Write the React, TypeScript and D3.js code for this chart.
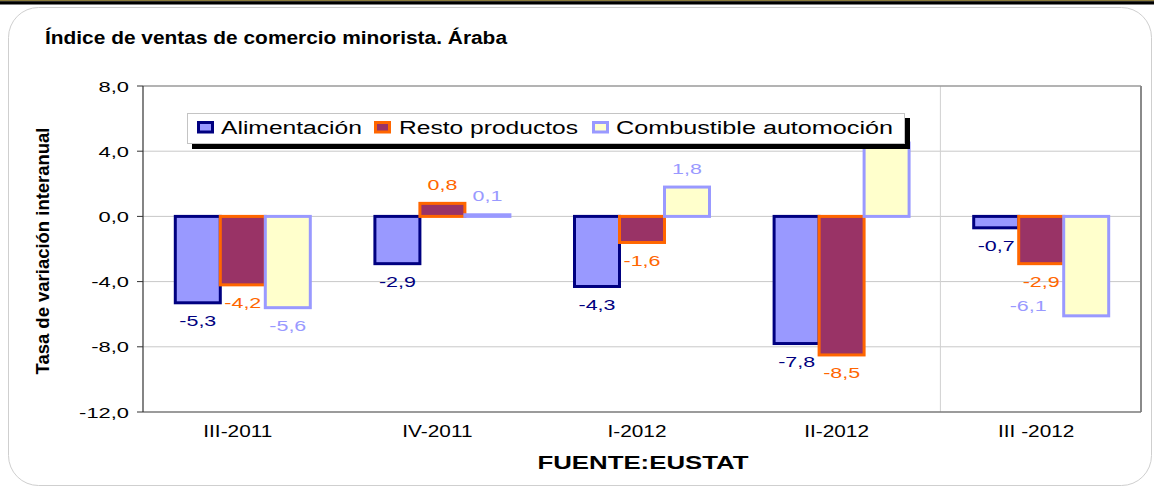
import React from "react";
import * as d3 from "d3";

const categories = ["III-2011", "IV-2011", "I-2012", "II-2012", "III -2012"];
const alimentacion = [-5.3, -2.9, -4.3, -7.8, -0.7];
const restoProductos = [-4.2, 0.8, -1.6, -8.5, -2.9];
const combustible = [-5.6, 0.1, 1.8, 4.5, -6.1];
const yTicks = [8, 4, 0, -4, -8, -12];
const seriesNames = ["Alimentación", "Resto productos", "Combustible automoción"];

const W = 1154;
const H = 489;
const FONT = "'Liberation Sans', Arial, sans-serif";

const seriesStyle = [
  { fill: "#9999FF", stroke: "#000080", label: "#000080" },
  { fill: "#993366", stroke: "#FF6600", label: "#FF6600" },
  { fill: "#FFFFCC", stroke: "#9999FF", label: "#9999FF" },
];
// manual label displacements (series index, category index)
const labelShift: Record<string, [number, number]> = { "2-4": [-58, -28] };
const legendLayout = [
  { sw: 197, tx: 221, tl: 141 },
  { sw: 374, tx: 399, tl: 179 },
  { sw: 592, tx: 616, tl: 277 },
];

const fmt = (v: number) => d3.format(".1f")(v).replace(".", ",").replace("−", "-");

function SText(props: any) {
  const { x, y, sx = 1, anchor = "start", children, ...rest } = props;
  return (
    <text transform={`translate(${x},${y}) scale(${sx},1)`} textAnchor={anchor} fontFamily={FONT} {...rest}>
      {children}
    </text>
  );
}

export default function App() {
  const plot = { l: 143, r: 1141, t: 86, b: 412 };
  const x0 = d3.scaleBand<string>().domain(categories).range([plot.l, plot.r]).padding(0);
  const groupW = 135;
  const x1 = d3.scaleBand<number>().domain([0, 1, 2]).range([0, groupW]).padding(0);
  const y = d3.scaleLinear().domain([-12, 8]).range([plot.b, plot.t]);
  const series = [alimentacion, restoProductos, combustible];

  const bars: any[] = [];
  const labels: any[] = [];
  series.forEach((vals, si) => {
    vals.forEach((v, ci) => {
      const cx = (x0(categories[ci]) as number) + x0.bandwidth() / 2 - groupW / 2;
      const bx = cx + (x1(si) as number);
      const bw = x1.bandwidth();
      const yTop = y(Math.max(0, v));
      const yBot = y(Math.min(0, v));
      bars.push(
        <rect key={`b${si}-${ci}`} x={bx} y={yTop} width={bw} height={Math.max(0.5, yBot - yTop)}
          fill={seriesStyle[si].fill} stroke={seriesStyle[si].stroke} strokeWidth={3} />
      );
      const sh = labelShift[`${si}-${ci}`] || [0, 0];
      const ly = v < 0 ? yBot + 23.5 : yTop - 13.5;
      labels.push(
        <SText key={`l${si}-${ci}`} x={bx + bw / 2 + sh[0]} y={ly + sh[1]} sx={1.43} anchor="middle"
          fontSize={15} fill={seriesStyle[si].label}>{fmt(v)}</SText>
      );
    });
  });

  return (
    <svg width={W} height={H} style={{ position: "absolute", left: 0, top: 0, background: "#fff" }}>
      <rect x={0} y={0} width={W} height={1.2} fill="#8a7a3a" />
      <rect x={0} y={1.2} width={W} height={3.3} fill="#000" />
      <rect x={8.5} y={7.5} width={1143} height={478} rx={30} ry={30} fill="#fff" stroke="#cfcfcf" strokeWidth={1} />

      <text x={45} y={44} fontFamily={FONT} fontWeight="bold" fontSize={17.5} fill="#000"
        textLength={462} lengthAdjust="spacingAndGlyphs">Índice de ventas de comercio minorista. Áraba</text>

      {/* gridlines */}
      {yTicks.filter((t) => t !== 8 && t !== -12).map((t) => (
        <line key={`g${t}`} x1={plot.l} x2={plot.r} y1={y(t)} y2={y(t)} stroke="#c8c8c8" strokeWidth={1} />
      ))}
      <line x1={(x0(categories[4]) as number) - 1} x2={(x0(categories[4]) as number) - 1} y1={plot.t} y2={plot.b}
        stroke="#d0d0d0" strokeWidth={1} />
      <line x1={plot.l} x2={plot.r} y1={plot.t} y2={plot.t} stroke="#9a9a9a" strokeWidth={1.5} />
      <line x1={plot.r} x2={plot.r} y1={plot.t} y2={plot.b} stroke="#8a8a8a" strokeWidth={2} />

      {bars}

      {/* axes */}
      <line x1={plot.l} x2={plot.r} y1={plot.b} y2={plot.b} stroke="#7a7a7a" strokeWidth={1.5} />
      <line x1={plot.l} x2={plot.l} y1={plot.t} y2={plot.b} stroke="#333" strokeWidth={1.2} />
      {yTicks.map((t) => (
        <g key={`t${t}`}>
          <line x1={plot.l - 6} x2={plot.l} y1={y(t)} y2={y(t)} stroke="#333" strokeWidth={1} />
          <SText x={129} y={y(t) + 5.5} sx={1.46} anchor="end" fontSize={15} fill="#000">{fmt(t)}</SText>
        </g>
      ))}
      {categories.map((c) => (
        <SText key={c} x={(x0(c) as number) + x0.bandwidth() / 2 - 5} y={437} sx={1.3} anchor="middle"
          fontSize={16} fill="#000">{c}</SText>
      ))}

      {labels}

      <text transform="translate(49,251) rotate(-90)" textAnchor="middle" fontFamily={FONT} fontWeight="bold"
        fontSize={19} fill="#000" textLength={247} lengthAdjust="spacingAndGlyphs">Tasa de variación interanual</text>

      <text x={643} y={469} textAnchor="middle" fontFamily={FONT} fontWeight="bold" fontSize={18.5} fill="#000"
        textLength={211} lengthAdjust="spacingAndGlyphs">FUENTE:EUSTAT</text>

      {/* legend */}
      <rect x={192} y={118} width={718} height={31} fill="#000" />
      <rect x={187.5} y={113.5} width={717} height={30} fill="#fff" stroke="#c4c4c4" strokeWidth={1} />
      {seriesNames.map((n, i) => (
        <g key={n}>
          <rect x={legendLayout[i].sw + 1.5} y={122.5} width={14} height={9.5} fill={seriesStyle[i].fill}
            stroke={seriesStyle[i].stroke} strokeWidth={3} />
          <text x={legendLayout[i].tx} y={133.5} fontFamily={FONT} fontSize={18} fill="#000"
            textLength={legendLayout[i].tl} lengthAdjust="spacingAndGlyphs">{n}</text>
        </g>
      ))}
    </svg>
  );
}
